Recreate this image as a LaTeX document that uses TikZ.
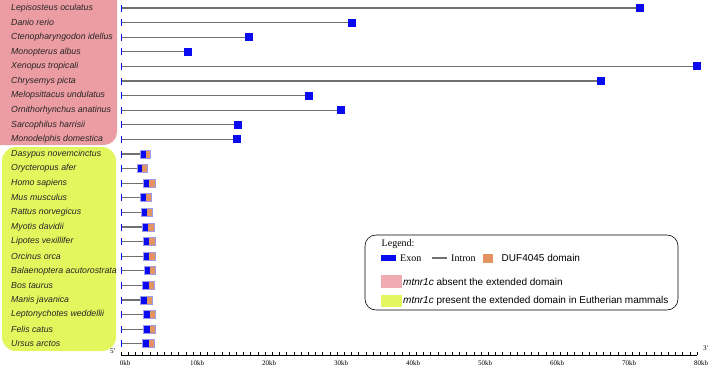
\documentclass[tikz,border=0pt]{standalone}
\usepackage{fontspec}
\setmainfont{Liberation Serif}
\newfontfamily\arial{Liberation Sans}
\definecolor{pinkbg}{HTML}{EC9CA3}
\definecolor{greenbg}{HTML}{E3F65E}
\definecolor{exonblue}{HTML}{0A0AF0}
\definecolor{dufor}{HTML}{E39460}
\definecolor{introngray}{HTML}{707070}
\definecolor{lav}{HTML}{9A9AF0}
\begin{document}
\begin{tikzpicture}[x=1pt,y=-1pt,
  sp/.style={anchor=west, font=\arial\itshape\fontsize{8.75}{9}\selectfont, inner sep=0pt, text=black!85},
  intronline/.style={draw=introngray, line width=1.1pt},
  starttick/.style={draw=exonblue, line width=1pt},
  exonbox/.style={fill=exonblue},
  dufbox/.style={fill=dufor},
  axlabel/.style={font=\fontsize{7}{7}\selectfont, inner sep=0pt},
  legtext/.style={anchor=west, inner sep=0pt, font=\fontsize{10}{11}\selectfont},
  legsans/.style={anchor=west, inner sep=0pt, font=\arial\fontsize{10}{11}\selectfont}]
\useasboundingbox (0,0) rectangle (711,368);
% background groups
\fill[pinkbg, rounded corners=13] (-15,-15) rectangle (117,145);
\fill[greenbg, rounded corners=14] (2,147) rectangle (116,351);
% species labels
\foreach \n [count=\i from 0] in {Lepisosteus oculatus, Danio rerio, Ctenopharyngodon idellus, Monopterus albus, Xenopus tropicali, Chrysemys picta, Melopsittacus undulatus, Ornithorhynchus anatinus, Sarcophilus harrisii, Monodelphis domestica, Dasypus novemcinctus, Orycteropus afer, Homo sapiens, Mus musculus, Rattus norvegicus, Myotis davidii, Lipotes vexillifer, Orcinus orca, Balaenoptera acutorostrata, Bos taurus, Manis javanica, Leptonychotes weddellii, Felis catus, Ursus arctos}
  \node[sp] (s\i) at (11, 8+14.6*\i) {\n};
% top group genes
\foreach \e [count=\i from 0] in {640, 352, 249, 188, 697, 601, 309, 341, 237.5, 237} {
  \path (121, 8+14.6*\i) coordinate (g\i);
  \draw[intronline] (g\i) -- ++(\e-121,0) coordinate (e\i);
  \draw[starttick] ([yshift=-3.5pt]g\i) -- ([yshift=3.5pt]g\i);
  \fill[exonbox] ([shift={(-4,-4)}]e\i) rectangle ([shift={(4,4)}]e\i);
}
% mammal genes
\foreach \a/\b/\c [count=\j from 10] in {140.7/145.7/150.7, 137/142.3/147, 143.3/149.3/155, 140.3/146/151.7, 141/146.7/152.3, 142.7/148.3/154, 143.3/149.3/155, 143.3/149.3/155, 144/150/155.7, 142.7/149/154.3, 140.7/147/152.3, 143.3/149.7/155, 143.3/150/155.7, 142.7/149/154.3} {
  \path (121, 8+14.6*\j) coordinate (g\j);
  \draw[intronline] (g\j) -- ++(\a-121,0);
  \draw[starttick] ([yshift=-3.5pt]g\j) -- ([yshift=3.5pt]g\j);
  \fill[exonbox] (\a, 8+14.6*\j-4) rectangle (\b, 8+14.6*\j+4);
  \fill[dufbox] (\b, 8+14.6*\j-4) rectangle (\c, 8+14.6*\j+4);
  \draw[lav, line width=0.7pt] (\a, 8+14.6*\j-4) rectangle (\c, 8+14.6*\j+4);
}
% axis
\coordinate (ax0) at (121,355);
\coordinate (ax1) at (697,355);
\draw[line width=0.6pt] (ax0) -- (ax1);
\foreach \i in {0,...,80} \draw[line width=0.5pt] (121+7.2*\i,355) -- ++(0,-3.5);
\foreach \k in {0,10,...,80} \node[axlabel] (t\k) at (125+7.2*\k,363.5) {\k kb};
\node[axlabel] (p5) at (113,351) {5'};
\node[axlabel] (p3) at (706,348) {3'};
% legend
\draw[line width=0.6pt, rounded corners=11] (365,235) rectangle (678,310);
\node[legtext] (lg) at (381.5,244) {Legend:};
\fill[exonblue] (381,255) rectangle (396,261);
\node[legtext] (lex) at (400,258.5) {Exon};
\draw[intronline] (432,258) -- (447,258);
\node[legtext] (lin) at (451,258.5) {Intron};
\fill[dufor] (483.3,253.5) rectangle (492.7,262.5);
\node[legsans] (ldu) at (501.5,258) {DUF4045 domain};
\fill[pinkbg!85!white] (381,274.5) rectangle (401.7,287.5);
\node[legsans] (lp) at (403,281.5) {\itshape mtnr1c\upshape{} absent the extended domain};
\fill[greenbg] (381,294.5) rectangle (401.7,306.7);
\node[legsans] (lgr) at (403,301) {\itshape mtnr1c\upshape{} present the extended domain in Eutherian mammals};
\end{tikzpicture}
\end{document}
